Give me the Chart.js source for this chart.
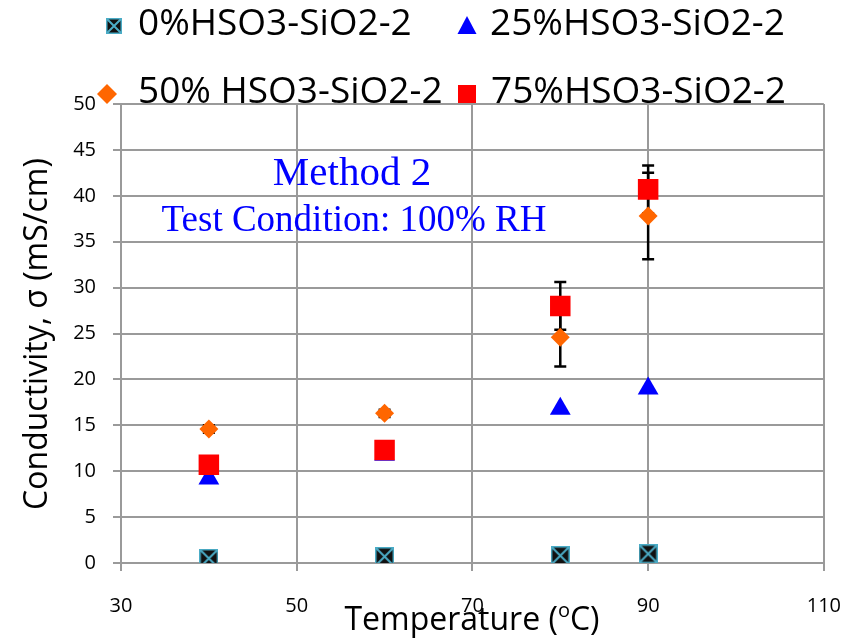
<!DOCTYPE html>
<html>
<head>
<meta charset="utf-8">
<script src="https://cdn.jsdelivr.net/npm/chart.js@4.4.1/dist/chart.umd.min.js"></script>
<style>
  html, body { margin: 0; padding: 0; background: #fff; }
  #wrap { width: 864px; height: 642px; }
</style>
</head>
<body>
<div id="wrap"><canvas id="chart" width="864" height="642"></canvas></div>
<script>
// data
const temps = [40, 60, 80, 90];
const seriesNames = ['0%HSO3-SiO2-2', '25%HSO3-SiO2-2', '50% HSO3-SiO2-2', '75%HSO3-SiO2-2'];
const s0 = [0.5, 0.7, 0.8, 1.0];
const s25 = [9.2, 11.8, 16.8, 19.0];
const s50 = [14.6, 16.3, 24.6, 37.8];
const s75 = [10.7, 12.3, 28.0, 40.7];
const err50 = [0.4, 0.4, 3.2, 4.7];
const err75 = [0, 0, 2.6, 2.6];
const xTicks = [30, 50, 70, 90, 110];
const yTicks = [0, 5, 10, 15, 20, 25, 30, 35, 40, 45, 50];

const GRID = '#9a9a9a';
const FONT = 'Open Sans';

// black box with a cyan X, used as the 0% marker
function xBox(size) {
    const c = document.createElement('canvas');
    c.width = c.height = size;
    const g = c.getContext('2d');
    g.fillStyle = '#111';
    g.fillRect(0, 0, size, size);
    g.strokeStyle = '#4BACC6';
    g.lineWidth = 2;
    g.strokeRect(0.5, 0.5, size - 1, size - 1);
    g.beginPath();
    g.moveTo(1, 1); g.lineTo(size - 1, size - 1);
    g.moveTo(size - 1, 1); g.lineTo(1, size - 1);
    g.stroke();
    return c;
}

function pts(ys) {
    return temps.map((t, i) => ({ x: t, y: ys[i] }));
}

// error bars drawn under the markers
const errorBars = {
    id: 'errorBars',
    beforeDatasetsDraw(chart) {
        const { ctx, scales: { x, y } } = chart;
        const sets = [[s50, err50], [s75, err75]];
        ctx.save();
        ctx.strokeStyle = '#000';
        ctx.lineWidth = 2.5;
        sets.forEach(([vals, errs]) => {
            vals.forEach((v, i) => {
                if (!errs[i]) return;
                const px = x.getPixelForValue(temps[i]);
                const top = y.getPixelForValue(v + errs[i]);
                const bot = y.getPixelForValue(v - errs[i]);
                ctx.beginPath();
                ctx.moveTo(px, top); ctx.lineTo(px, bot);
                ctx.moveTo(px - 6, top); ctx.lineTo(px + 6, top);
                ctx.moveTo(px - 6, bot); ctx.lineTo(px + 6, bot);
                ctx.stroke();
            });
        });
        ctx.restore();
    }
};

// legend, axis titles and the text notes
const extras = {
    id: 'extras',
    afterDraw(chart) {
        const ctx = chart.ctx;
        ctx.save();

        // legend
        ctx.font = '37px "' + FONT + '"';
        ctx.fillStyle = '#000';
        ctx.textBaseline = 'middle';
        ctx.textAlign = 'left';
        const rows = [
            { name: seriesNames[0], mx: 114, tx: 138, y: 24, mark: 'x' },
            { name: seriesNames[1], mx: 467, tx: 490, y: 24, mark: 'tri' },
            { name: seriesNames[2], mx: 107, tx: 138, y: 92, mark: 'dia' },
            { name: seriesNames[3], mx: 467, tx: 491, y: 92, mark: 'sq' }
        ];
        rows.forEach(r => {
            const cy = r.y + 2;
            if (r.mark === 'x') {
                ctx.drawImage(xBox(16), r.mx - 8, cy - 8);
            } else if (r.mark === 'tri') {
                ctx.fillStyle = '#0000FF';
                ctx.beginPath();
                ctx.moveTo(r.mx, cy - 10); ctx.lineTo(r.mx + 9.5, cy + 8); ctx.lineTo(r.mx - 9.5, cy + 8);
                ctx.closePath(); ctx.fill();
            } else if (r.mark === 'dia') {
                ctx.fillStyle = '#FF6600';
                ctx.beginPath();
                ctx.moveTo(r.mx, cy - 10); ctx.lineTo(r.mx + 10, cy); ctx.lineTo(r.mx, cy + 10); ctx.lineTo(r.mx - 10, cy);
                ctx.closePath(); ctx.fill();
            } else {
                ctx.fillStyle = '#FF0000';
                ctx.fillRect(r.mx - 9, cy - 9, 18, 18);
            }
            ctx.fillStyle = '#000';
            ctx.fillText(r.name, r.tx, r.y);
        });

        // y axis title
        ctx.save();
        ctx.translate(38, 334);
        ctx.rotate(-Math.PI / 2);
        ctx.textAlign = 'center';
        ctx.font = '32px "' + FONT + '"';
        ctx.fillText('Conductivity, σ (mS/cm)', 0, 0);
        ctx.restore();

        // x axis title with superscript o
        const big = '32px "' + FONT + '"', small = '20px "' + FONT + '"';
        ctx.font = big;
        const a = 'Temperature (', c = 'C)';
        const wa = ctx.measureText(a).width, wc = ctx.measureText(c).width;
        ctx.font = small;
        const wo = ctx.measureText('o').width;
        let x0 = 472 - (wa + wo + wc) / 2;
        ctx.textAlign = 'left';
        ctx.font = big;
        ctx.fillText(a, x0, 621);
        ctx.font = small;
        ctx.fillText('o', x0 + wa, 611);
        ctx.font = big;
        ctx.fillText(c, x0 + wa + wo, 621);

        // notes
        ctx.fillStyle = '#0000FF';
        ctx.textAlign = 'center';
        ctx.textBaseline = 'alphabetic';
        ctx.font = '41px "Liberation Serif"';
        ctx.fillText('Method 2', 352, 185);
        ctx.font = '37px "Liberation Serif"';
        ctx.fillText('Test Condition: 100% RH', 354, 231);

        ctx.restore();
    }
};

const ctx = document.getElementById('chart').getContext('2d');
new Chart(ctx, {
    type: 'scatter',
    data: {
        datasets: [
            { label: seriesNames[0], data: pts(s0), pointStyle: xBox(19), order: 1 },
            { label: seriesNames[1], data: pts(s25), pointStyle: 'triangle', pointRadius: 12,
              backgroundColor: '#0000FF', borderColor: '#0000FF', borderWidth: 0, order: 4 },
            { label: seriesNames[2], data: pts(s50), pointStyle: 'rectRot', pointRadius: 9.5,
              backgroundColor: '#FF6600', borderColor: '#FF6600', borderWidth: 0, order: 2 },
            { label: seriesNames[3], data: pts(s75), pointStyle: 'rect', pointRadius: 14.5,
              backgroundColor: '#FF0000', borderColor: '#FF0000', borderWidth: 0, order: 3 }
        ]
    },
    options: {
        responsive: false,
        animation: false,
        devicePixelRatio: 1,
        layout: { padding: { top: 104, right: 34, left: 0, bottom: 0 } },
        plugins: { legend: { display: false }, tooltip: { enabled: false } },
        scales: {
            x: {
                type: 'linear',
                min: 30, max: 110,
                afterBuildTicks: s => { s.ticks = xTicks.map(v => ({ value: v })); },
                afterFit: s => { s.height = 79; },
                grid: { color: GRID, lineWidth: 2, tickLength: 8, tickColor: GRID },
                border: { color: GRID, width: 2 },
                ticks: { color: '#000', padding: 23, maxRotation: 0, font: { family: FONT, size: 20 } }
            },
            y: {
                min: 0, max: 50,
                afterBuildTicks: s => { s.ticks = yTicks.map(v => ({ value: v })); },
                afterFit: s => { s.width = 121; },
                grid: { color: GRID, lineWidth: 2, tickLength: 8, tickColor: GRID },
                border: { color: GRID, width: 2 },
                ticks: { color: '#000', padding: 17, font: { family: FONT, size: 20 } }
            }
        }
    },
    plugins: [errorBars, extras]
});
</script>
</body>
</html>
